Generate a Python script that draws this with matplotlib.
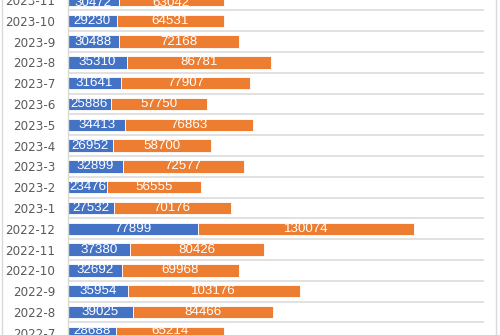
import matplotlib.pyplot as plt
from matplotlib.lines import Line2D
import numpy as np

# datos (de abajo hacia arriba)
meses = ['2022-7', '2022-8', '2022-9', '2022-10', '2022-11', '2022-12',
         '2023-1', '2023-2', '2023-3', '2023-4', '2023-5', '2023-6',
         '2023-7', '2023-8', '2023-9', '2023-10', '2023-11']
serie_a = [28688, 39025, 35954, 32692, 37380, 77899,
           27532, 23476, 32899, 26952, 34413, 25886,
           31641, 35310, 30488, 29230, 30472]
serie_b = [65214, 84466, 103176, 69968, 80426, 130074,
           70176, 56555, 72577, 58700, 76863, 57750,
           77907, 86781, 72168, 64531, 63042]

azul = '#4472C4'
naranja = '#ED7D31'
gris = '#D9D9D9'

fig = plt.figure(figsize=(5, 3.35), dpi=100)
ax = fig.add_axes([68 / 500, 0, (484 - 68) / 500, 1])

y = np.arange(len(meses))
b1 = ax.barh(y, serie_a, height=0.6, color=azul, edgecolor='white', linewidth=0.6, zorder=3)
b2 = ax.barh(y, serie_b, left=serie_a, height=0.6, color=naranja, edgecolor='white', linewidth=0.6, zorder=3)

ax.bar_label(b1, labels=[str(v) for v in serie_a], label_type='center',
             color='white', fontsize=9.6, family='Liberation Sans', zorder=4)
ax.bar_label(b2, labels=[str(v) for v in serie_b], label_type='center',
             color='white', fontsize=9.6, family='Liberation Sans', zorder=4)

# lineas de division entre categorias
for k in range(len(meses) + 1):
    ax.axhline(k - 0.5, color=gris, linewidth=1.1, zorder=1)

ax.set_xlim(0, 250000)
ax.set_ylim(-0.106, 15.946)
ax.set_yticks(y)
ax.set_yticklabels(meses, color='#595959', fontsize=8.6, family='DejaVu Sans')
ax.tick_params(axis='y', length=0, pad=9)
ax.set_xticks([])

for s in ['top', 'right', 'bottom']:
    ax.spines[s].set_visible(False)
ax.spines['left'].set_color(gris)
ax.spines['left'].set_linewidth(1.0)
ax.spines['left'].set_zorder(5)

# borde del area del grafico
fig.add_artist(Line2D([1.5 / 500, 1.5 / 500], [0, 1], color=gris, linewidth=1.0))
fig.add_artist(Line2D([495.5 / 500, 495.5 / 500], [0, 1], color=gris, linewidth=1.0))

fig.savefig('out.png', dpi=100)
